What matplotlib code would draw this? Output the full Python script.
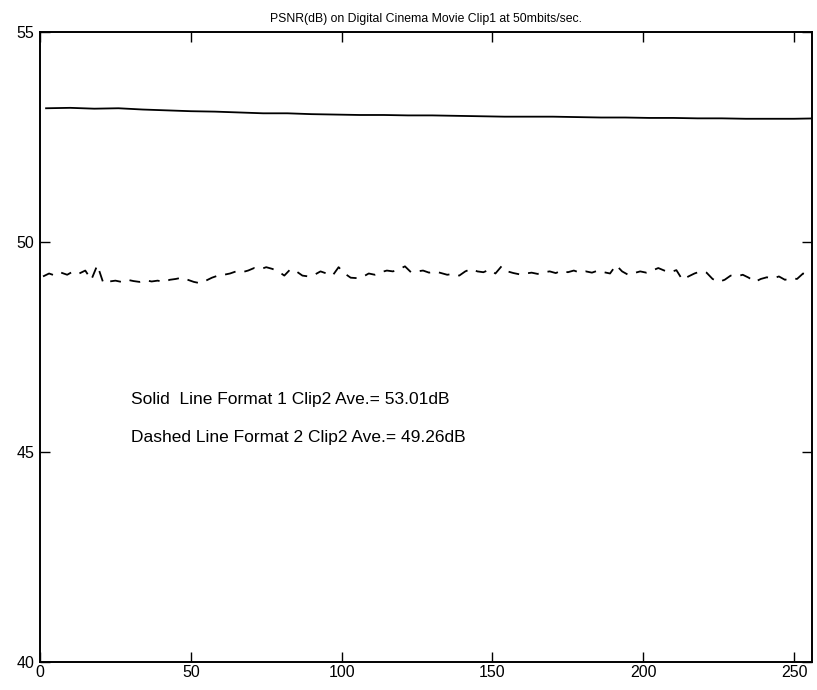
import numpy as np
import matplotlib
matplotlib.use('Agg')
import matplotlib.pyplot as plt

# PSNR per frame
solid_frames = np.arange(2, 259, 8)
solid_psnr = [53.18, 53.19, 53.17, 53.18, 53.15, 53.13, 53.11, 53.10, 53.08,
              53.06, 53.06, 53.04, 53.03, 53.02, 53.02, 53.01, 53.01, 53.00,
              52.99, 52.98, 52.98, 52.98, 52.97, 52.96, 52.96, 52.95, 52.95,
              52.94, 52.94, 52.93, 52.93, 52.93, 52.94]

dashed_psnr = [49.18, 49.25, 49.20, 49.27, 49.22, 49.30, 49.25, 49.32, 49.10,
               49.45, 49.02, 49.06, 49.08, 49.05, 49.10, 49.07, 49.05, 49.09,
               49.06, 49.08, 49.05, 49.10, 49.12, 49.15, 49.10, 49.05, 49.02,
               49.08, 49.15, 49.20, 49.22, 49.25, 49.30, 49.28, 49.32, 49.38,
               49.35, 49.40, 49.36, 49.30, 49.20, 49.35, 49.30, 49.20, 49.18,
               49.22, 49.30, 49.25, 49.20, 49.40, 49.25, 49.15, 49.14, 49.17,
               49.25, 49.22, 49.28, 49.32, 49.30, 49.35, 49.42, 49.28, 49.30,
               49.32, 49.27, 49.30, 49.26, 49.22, 49.24, 49.20, 49.30, 49.36,
               49.30, 49.28, 49.34, 49.25, 49.42, 49.30, 49.26, 49.23, 49.25,
               49.27, 49.24, 49.28, 49.30, 49.26, 49.32, 49.28, 49.32, 49.27,
               49.30, 49.27, 49.32, 49.28, 49.25, 49.45, 49.30, 49.22, 49.26,
               49.30, 49.27, 49.32, 49.38, 49.32, 49.28, 49.33, 49.10, 49.18,
               49.25, 49.30, 49.27, 49.12, 49.05, 49.10, 49.20, 49.18, 49.22,
               49.15, 49.05, 49.12, 49.16, 49.13, 49.18, 49.10, 49.14, 49.12,
               49.25, 49.20]
dashed_frames = np.arange(1, 2 * len(dashed_psnr), 2)

title = 'PSNR(dB) on Digital Cinema Movie Clip1 at 50mbits/sec.'
note_solid = 'Solid  Line Format 1 Clip2 Ave.= 53.01dB'
note_dashed = 'Dashed Line Format 2 Clip2 Ave.= 49.26dB'

plt.rcParams['font.family'] = ['Liberation Sans', 'DejaVu Sans']

fig = plt.figure(figsize=(8.17, 6.9), dpi=100)
ax = fig.add_axes([0.049, 0.04, 0.945, 0.914])

ax.plot(solid_frames, solid_psnr, color='black', linewidth=1.3)
ax.plot(dashed_frames, dashed_psnr, color='black', linewidth=1.3,
        dashes=(6, 5))

ax.text(30, 46.25, note_solid, fontsize=12.5, va='center')
ax.text(30, 45.35, note_dashed, fontsize=12.5, va='center')

ax.set_xlim(0, 256)
ax.set_ylim(40, 55)
ax.set_xticks([0, 50, 100, 150, 200, 250])
ax.set_yticks([40, 45, 50, 55])
ax.tick_params(direction='in', top=True, right=True, length=7, width=1,
               labelsize=11.5, pad=4)
ax.tick_params(axis='x', pad=2)
for side in ax.spines.values():
    side.set_linewidth(1.4)
ax.set_title(title, fontsize=8.8, pad=7)

fig.savefig('out.png')
plt.close()
